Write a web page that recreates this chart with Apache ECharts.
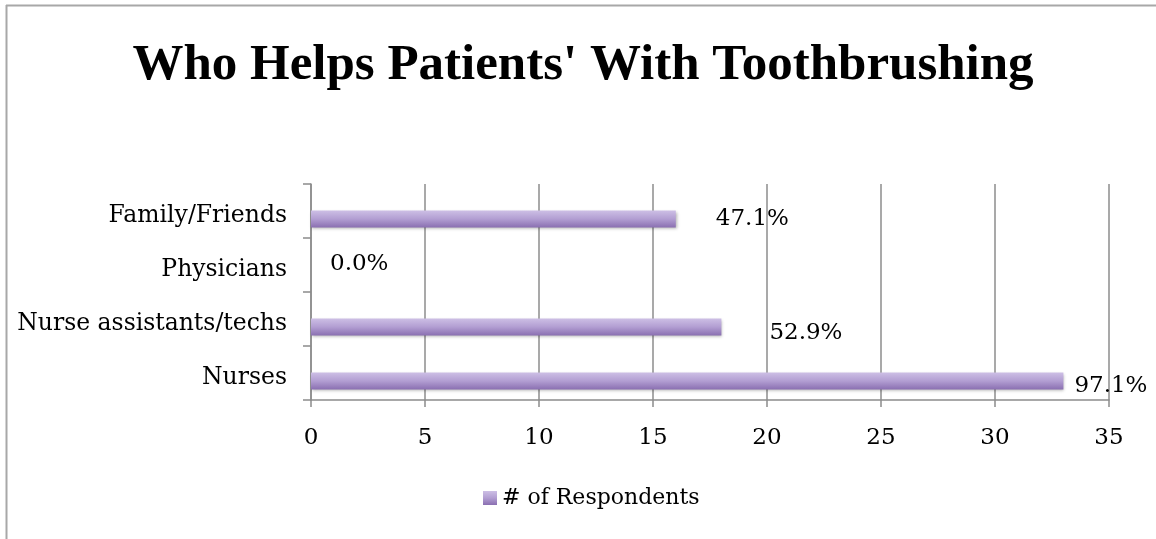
<!DOCTYPE html>
<html>
<head>
<meta charset="utf-8">
<script src="https://cdn.jsdelivr.net/npm/echarts@6/dist/echarts.min.js"></script>
<style>html,body{margin:0;padding:0;background:#fff;}#c{width:1156px;height:539px;}</style>
</head>
<body>
<div id="c"></div>
<script>
var titleText = "Who Helps Patients' With Toothbrushing";
var categories = ["Nurses", "Nurse assistants/techs", "Physicians", "Family/Friends"];
var respondents = [33, 18, 0, 16];
var percentLabels = ["97.1%", "52.9%", "0.0%", "47.1%"];
var seriesName = "# of Respondents";
var xTicks = { min: 0, max: 35, interval: 5 };

var labelOffsets = [[6, 5], [43, 6], [14, -9], [35, 0]];
var serif = "DejaVu Serif";

var chart = echarts.init(document.getElementById('c'), null, { renderer: 'canvas' });
var barData = respondents.map(function (v, i) {
  return { value: v, label: { offset: labelOffsets[i], formatter: percentLabels[i] } };
});
var barColor = new echarts.graphic.LinearGradient(0, 0, 0, 1, [
  { offset: 0, color: '#cdbfe5' },
  { offset: 0.5, color: '#b29ed2' },
  { offset: 1, color: '#8a6fb1' }
]);
chart.setOption({
  animation: false,
  backgroundColor: '#fff',
  title: {
    text: titleText, left: 578, top: 35, textAlign: 'center',
    textStyle: { fontFamily: 'Liberation Serif', fontWeight: 'bold', fontSize: 51, color: '#000' }
  },
  graphic: [
    { type: 'line', shape: { x1: 6, y1: 5.5, x2: 1156, y2: 5.5 }, style: { stroke: '#a8a8a8', lineWidth: 2 } },
    { type: 'line', shape: { x1: 6.5, y1: 5, x2: 6.5, y2: 539 }, style: { stroke: '#a8a8a8', lineWidth: 2 } }
  ],
  legend: {
    data: [seriesName], left: 478, top: 482, itemWidth: 14, itemHeight: 14, itemGap: 5,
    icon: 'rect',
    textStyle: { fontFamily: serif, fontSize: 22, color: '#000' }
  },
  grid: { left: 311, right: 47, top: 184, bottom: 139, containLabel: false },
  xAxis: {
    type: 'value', min: xTicks.min, max: xTicks.max, interval: xTicks.interval,
    axisLine: { show: true, lineStyle: { color: '#8c8c8c', width: 1.5 } },
    axisTick: { show: true, length: 7, lineStyle: { color: '#8c8c8c', width: 1.5 } },
    splitLine: { show: true, lineStyle: { color: '#8c8c8c', width: 1.5 } },
    axisLabel: { margin: 27, fontFamily: serif, fontSize: 23, color: '#000' }
  },
  yAxis: {
    type: 'category', data: categories,
    axisLine: { show: true, lineStyle: { color: '#8c8c8c', width: 1.5 } },
    axisTick: { show: true, length: 8, lineStyle: { color: '#8c8c8c', width: 1.5 } },
    axisLabel: {
      margin: 24, color: '#000',
      formatter: function (v) { return '{a|' + v + '}'; },
      rich: { a: { fontFamily: serif, fontSize: 23.5, color: '#000', padding: [9, 0, 0, 0] } }
    }
  },
  series: [
    {
      name: 'ghost', type: 'bar', data: respondents.map(function () { return 0; }),
      barWidth: 17, barGap: '-6%', itemStyle: { color: 'rgba(0,0,0,0)' }, silent: true
    },
    {
      name: seriesName, type: 'bar', data: barData, barWidth: 17,
      itemStyle: { color: barColor, shadowColor: 'rgba(0,0,0,0.3)', shadowBlur: 3, shadowOffsetX: 1, shadowOffsetY: 2 },
      label: { show: true, position: 'right', distance: 5, fontFamily: serif, fontSize: 23, color: '#000' }
    }
  ]
});
</script>
</body>
</html>
